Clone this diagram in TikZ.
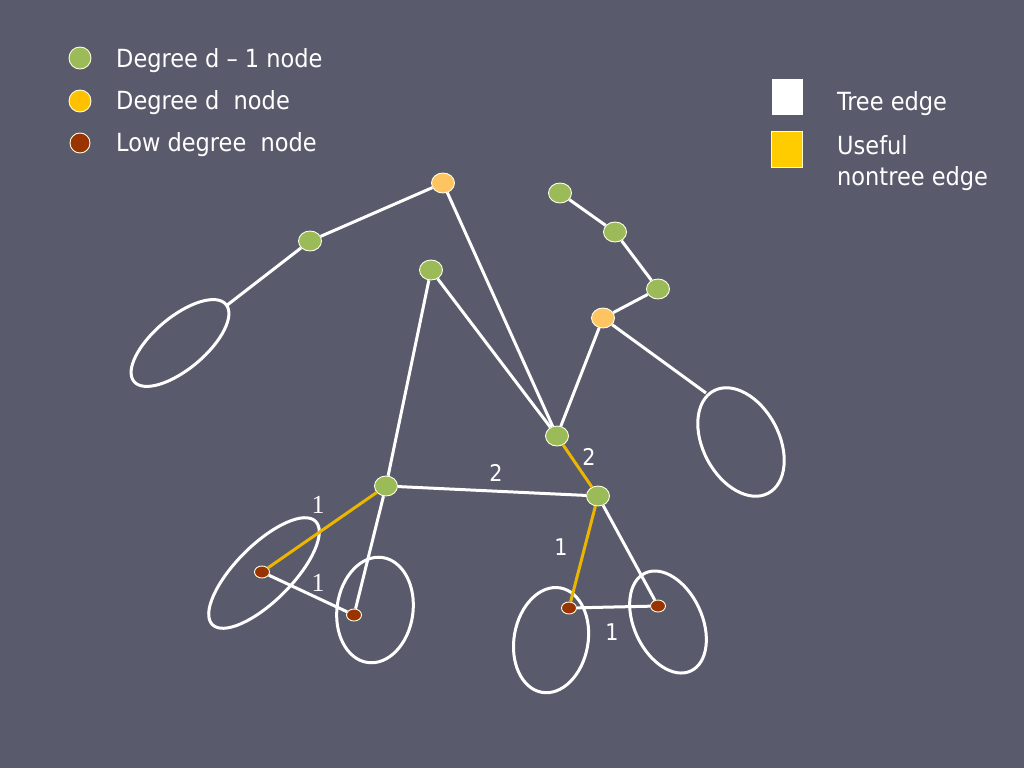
\documentclass[tikz,border=0pt]{standalone}
\usepackage{fontspec}
\setmainfont{DejaVu Sans Condensed}
\newfontfamily\serifnum{Liberation Serif}
\usetikzlibrary{shapes.geometric}
\definecolor{bgc}{RGB}{89,90,108}
\definecolor{gnode}{RGB}{155,187,89}
\definecolor{ynode}{RGB}{255,192,0}
\definecolor{onode}{RGB}{255,196,98}
\definecolor{rnode}{RGB}{153,51,0}
\definecolor{yedge}{RGB}{236,182,0}
\definecolor{ysq}{RGB}{255,204,0}
\tikzset{
  vtx/.style={ellipse, draw=white!90!yellow, line width=0.9pt, inner sep=0pt, minimum width=23pt, minimum height=20pt},
  gv/.style={vtx, fill=gnode},
  ov/.style={vtx, fill=onode},
  rv/.style={vtx, fill=rnode, minimum width=15pt, minimum height=12pt},
  tree/.style={draw=white, line width=3pt},
  useful/.style={draw=yedge, line width=3pt},
  blob/.style={draw=white, line width=3pt},
  lab/.style={text=white, font=\fontsize{25}{29}\selectfont, inner sep=0pt},
  wlab/.style={text=white, font=\fontsize{23}{27}\selectfont, inner sep=0pt},
  slab/.style={text=white, font=\serifnum\fontsize{26}{30}\selectfont, inner sep=0pt},
  legdot/.style={circle, draw=white!85!yellow, line width=0.9pt, inner sep=0pt, minimum size=22pt},
}
\begin{document}
\begin{tikzpicture}[x=1pt,y=1pt]
\fill[bgc] (0,0) rectangle (1024,-768);
\useasboundingbox (0,0) rectangle (1024,-768);
% legend left
\node[legdot, fill=gnode] (l1) at (80,-58) {};
\node[legdot, fill=ynode] (l2) at (80,-101) {};
\node[legdot, fill=rnode, minimum size=20pt] (l3) at (80,-143) {};
\node[lab, anchor=west] (t1) at (116,-61) {Degree d -- 1 node};
\node[lab, anchor=west] (t2) at (116,-103) {Degree d\ \ node};
\node[lab, anchor=west] (t3) at (116,-145) {Low degree\ \ node};
% legend right
\node[fill=white, minimum width=31pt, minimum height=36pt, inner sep=0pt] (s1) at (787,-97) {};
\node[fill=ysq, draw=white!80!yellow, line width=0.8pt, minimum width=31pt, minimum height=36pt, inner sep=0pt] (s2) at (787,-149) {};
\node[lab, anchor=west] (t4) at (837,-104) {Tree edge};
\node[lab, anchor=north west, align=left, font=\fontsize{25}{31}\selectfont] (t5) at (837,-135) {Useful\\nontree edge};
% ellipses (blobs)
\coordinate (e1) at (180,-343);
\coordinate (e2) at (741,-442);
\coordinate (e3) at (264,-573);
\coordinate (e4) at (375,-610);
\coordinate (e5) at (551,-640);
\coordinate (e6) at (668,-622);
\draw[blob, rotate around={40:(e1)}] (e1) ellipse[x radius=60pt, y radius=26pt];
\draw[blob, rotate around={28:(e2)}] (e2) ellipse[x radius=38pt, y radius=58pt];
\draw[blob, rotate around={45:(e3)}] (e3) ellipse[x radius=73pt, y radius=28pt];
\draw[blob, rotate around={-8:(e4)}] (e4) ellipse[x radius=38pt, y radius=53pt];
\draw[blob, rotate around={-10:(e5)}] (e5) ellipse[x radius=37pt, y radius=53pt];
\draw[blob, rotate around={25:(e6)}] (e6) ellipse[x radius=34pt, y radius=54pt];
\coordinate (e1t) at (226,-306);
\coordinate (e2t) at (706,-393);
% vertices
\node[ov] (A) at (443,-183) {};
\node[gv] (B) at (310,-241) {};
\node[gv] (C) at (431,-270) {};
\node[gv] (D) at (560,-193) {};
\node[gv] (E) at (615,-232) {};
\node[gv] (F) at (658,-289) {};
\node[ov] (G) at (603,-318) {};
\node[gv] (H) at (557,-436) {};
\node[gv] (I) at (386,-486) {};
\node[gv] (J) at (598,-496) {};
\node[rv] (K) at (262,-572) {};
\node[rv] (L) at (354,-615) {};
\node[rv] (M) at (569,-608) {};
\node[rv] (N) at (658,-606) {};
% tree edges
\draw[tree] (A) -- (B);
\draw[tree] (B) -- (e1t);
\draw[tree] (A) -- (H);
\draw[tree] (C) -- (H);
\draw[tree] (C) -- (I);
\draw[tree] (H) -- (G);
\draw[tree] (G) -- (F);
\draw[tree] (F) -- (E);
\draw[tree] (E) -- (D);
\draw[tree] (G) -- (e2t);
\draw[tree] (I) -- (J);
\draw[tree] (I) -- (L);
\draw[tree] (J) -- (N);
\draw[tree] (K) -- (L);
\draw[tree] (M) -- (N);
% useful nontree edges
\draw[useful] (I) -- (K);
\draw[useful] (H) -- (J);
\draw[useful] (J) -- (M);
% weights
\node[wlab] (w1) at (496,-473) {2};
\node[wlab] (w2) at (589,-457) {2};
\node[slab] (w3) at (318,-505) {1};
\node[slab] (w4) at (318,-583) {1};
\node[wlab] (w5) at (561,-547) {1};
\node[wlab] (w6) at (612,-632) {1};
\end{tikzpicture}
\end{document}
